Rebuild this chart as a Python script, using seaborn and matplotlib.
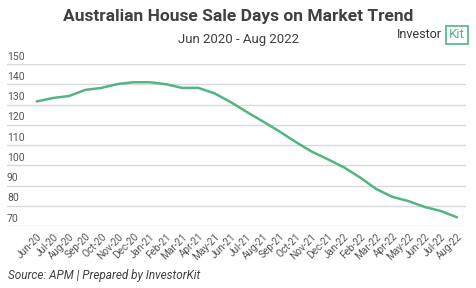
import seaborn as sns
import matplotlib.pyplot as plt
import pandas as pd

# data
months = ['Jun-20', 'Jul-20', 'Aug-20', 'Sep-20', 'Oct-20', 'Nov-20', 'Dec-20',
          'Jan-21', 'Feb-21', 'Mar-21', 'Apr-21', 'May-21', 'Jun-21', 'Jul-21',
          'Aug-21', 'Sep-21', 'Oct-21', 'Nov-21', 'Dec-21', 'Jan-22', 'Feb-22',
          'Mar-22', 'Apr-22', 'May-22', 'Jun-22', 'Jul-22', 'Aug-22']
days = [131.5, 133.2, 134.2, 137.2, 138.2, 140.1, 141.0,
        141.0, 140.0, 138.2, 138.2, 135.5, 131.2, 126.3,
        121.6, 116.8, 111.6, 106.8, 103.0, 99.0, 94.0,
        88.3, 84.4, 82.3, 79.4, 77.4, 74.3]
y_ticks = [70, 80, 90, 100, 110, 120, 130, 140, 150]

df = pd.DataFrame({'Month': months, 'Days': days})
df['idx'] = range(len(df))

green = '#52b582'
grey = '#555555'

sns.set_style('white')
plt.rcParams['font.family'] = ['Roboto', 'DejaVu Sans']

fig = plt.figure(figsize=(4.77, 2.88), dpi=100)
ax = fig.add_axes([7 / 477, 62 / 288, 459 / 477, 162 / 288])

sns.lineplot(data=df, x='idx', y='Days', color=green, linewidth=1.8, ax=ax)

ax.set_ylim(70, 150)
ax.set_xlim(-1.84, 26.56)
ax.set_yticks(y_ticks)
ax.yaxis.grid(True, color='#d9d9d9', linewidth=1)
ax.set_yticklabels([])
ax.tick_params(axis='y', length=0)
for v in y_ticks:
    ax.text(0, v + 1.2, str(v), transform=ax.get_yaxis_transform(),
            fontsize=7.5, color=grey, va='bottom', ha='left')

ax.set_xticks(df['idx'])
ax.set_xticklabels(df['Month'], rotation=45, ha='right', rotation_mode='anchor',
                   fontsize=7.2, color=grey)
ax.tick_params(axis='x', length=0, pad=4)
ax.set_xlabel('')
ax.set_ylabel('')
for s in ax.spines.values():
    s.set_visible(False)

fig.text(0.5, 1 - 16 / 288, 'Australian House Sale Days on Market Trend',
         ha='center', va='center', fontsize=12.5, fontweight='bold', color='#404040')
fig.text(0.5, 1 - 39 / 288, 'Jun 2020 - Aug 2022',
         ha='center', va='center', fontsize=9.5, color='#404040')
fig.text(397 / 477, 1 - 35 / 288, 'Investor', ha='left', va='center',
         fontsize=9, color='#333333')
fig.text(449 / 477, 1 - 35 / 288, 'Kit', ha='left', va='center', fontsize=9.5,
         color=green, bbox=dict(boxstyle='square,pad=0.2', fc='white', ec=green, lw=1.2))
fig.text(8 / 477, 1 - 275 / 288, 'Source: APM | Prepared by InvestorKit',
         ha='left', va='center', fontsize=8.5, style='italic', color='#404040')

fig.savefig('out.png', dpi=100)
